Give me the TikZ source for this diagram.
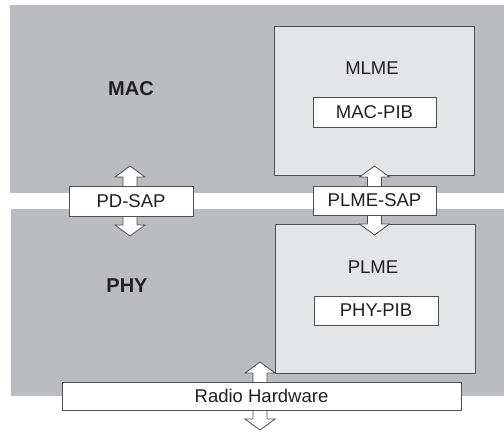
\documentclass[tikz,border=0pt]{standalone}
\usepackage{fontspec}
\setmainfont{Liberation Sans}
\definecolor{bandgray}{HTML}{BBBCC0}
\definecolor{boxgray}{HTML}{E4E5E7}
\definecolor{edgegray}{HTML}{505050}
\definecolor{inkgray}{HTML}{231F20}

\begin{document}
\begin{tikzpicture}[
  x=1pt, y=-1pt,
  band/.style={
    fill=bandgray, draw=none, inner sep=0pt
  },
  entity/.style={
    draw=edgegray, fill=boxgray, line width=0.9pt, inner sep=0pt
  },
  sapbox/.style={
    draw=edgegray, fill=white, line width=0.9pt, inner sep=0pt,
    font=\fontsize{18.5}{21}\selectfont, text=inkgray
  },
  tag/.style={
    font=\fontsize{18.5}{21}\selectfont, text=inkgray, inner sep=0pt
  },
  layer/.style={
    font=\fontsize{20}{23}\selectfont\bfseries, text=inkgray, inner sep=0pt
  },
  blockarrow/.style={
    draw=edgegray, fill=white, line width=0.8pt, line join=miter
  },
  uparrow/.pic={
    \draw[blockarrow] (-7,0) -- (-7,-9) -- (-15,-9) -- (0,-20)
      -- (15,-9) -- (7,-9) -- (7,0);
  },
  downarrow/.pic={
    \draw[blockarrow] (-7,0) -- (-7,9) -- (-15,9) -- (0,20)
      -- (15,9) -- (7,9) -- (7,0);
  },
]
\useasboundingbox (0,0) rectangle (504,432);

% Layer bands
\node[band, minimum width=494pt, minimum height=188pt] (macband) at (257,99) {};
\node[band, minimum width=493pt, minimum height=187pt] (phyband) at (257.5,302.5) {};

% Management entities
\node[entity, minimum width=200pt, minimum height=149pt] (mlme) at (374,100.5) {};
\node[entity, minimum width=200pt, minimum height=149pt] (plme) at (375,298.5) {};

\node[tag] (mlmetag) at (372,68) {MLME};
\node[tag] (plmetag) at (373,267) {PLME};

\node[sapbox, minimum width=123pt, minimum height=30pt] (macpib) at (374.5,112) {MAC-PIB};
\node[sapbox, minimum width=124pt, minimum height=29pt] (phypib) at (376,310.5) {PHY-PIB};

% Layer names
\node[layer] (mac) at (131,89) {MAC};
\node[layer] (phy) at (127,286) {PHY};

% Access points and radio
\coordinate (pdup) at (130,186);
\coordinate (pddown) at (130,216);
\coordinate (plmeup) at (374.5,186);
\coordinate (plmedown) at (374.5,215);
\coordinate (radioup) at (260,382);
\coordinate (radiodown) at (260,410);

\pic at (pdup) {uparrow};
\pic at (pddown) {downarrow};
\pic at (plmeup) {uparrow};
\pic at (plmedown) {downarrow};
\pic at (radioup) {uparrow};
\pic at (radiodown) {downarrow};

\node[sapbox, minimum width=124pt, minimum height=30pt] (pdsap) at (131,201) {PD-SAP};
\node[sapbox, minimum width=123pt, minimum height=29pt] (plmesap) at (374.5,200.5) {PLME-SAP};
\node[sapbox, minimum width=399pt, minimum height=28pt] (radio) at (261.5,396) {Radio Hardware};

\end{tikzpicture}
\end{document}
